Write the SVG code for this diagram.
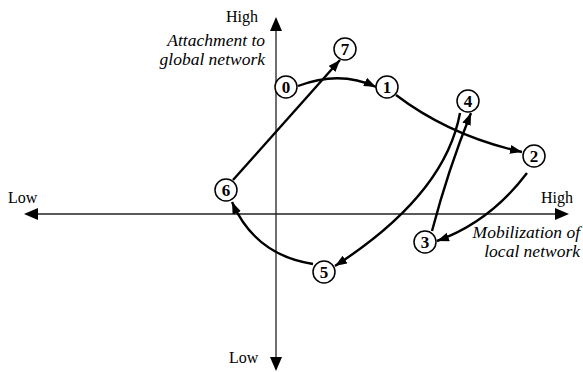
<svg xmlns="http://www.w3.org/2000/svg" width="583" height="372" viewBox="0 0 583 372">
<style>
.axis{stroke:#222;stroke-width:1.3;fill:none}
.ah{fill:#000}
.lbl{font-family:'Liberation Serif','Times New Roman',serif;font-size:16px;fill:#000}
.it{font-style:italic;font-size:17.5px}
.edge{stroke:#000;stroke-width:2.4;fill:none;marker-end:url(#arr)}
.node circle{fill:#fff;stroke:#000;stroke-width:1.5}
.node text{font-family:'Liberation Serif','Times New Roman',serif;font-size:17px;font-weight:bold;text-anchor:middle;fill:#000}
</style>
<defs>
<marker id="arr" markerUnits="userSpaceOnUse" markerWidth="14" markerHeight="11" refX="12" refY="4.5" orient="auto">
<path d="M0,0 L12,4.5 L0,9 z" fill="#000"/>
</marker>
</defs>
<g id="axes">
<line class="axis" x1="276" y1="30" x2="276" y2="358"/>
<line class="axis" x1="37" y1="214" x2="556" y2="214"/>
<polygon class="ah" points="276,17 270,31 282,31"/>
<polygon class="ah" points="276,371 270,357 282,357"/>
<polygon class="ah" points="24,214 38,208 38,220"/>
<polygon class="ah" points="569,214 555,208 555,220"/>
<text class="lbl" x="226" y="22" font-family="Liberation Serif, serif">High</text>
<text class="lbl it" x="265" y="46" text-anchor="end" font-family="Liberation Serif, serif">Attachment to</text>
<text class="lbl it" x="265" y="65" text-anchor="end" font-family="Liberation Serif, serif">global network</text>
<text class="lbl" x="541" y="203" font-family="Liberation Serif, serif">High</text>
<text class="lbl it" x="580" y="238" text-anchor="end" font-family="Liberation Serif, serif">Mobilization of</text>
<text class="lbl it" x="580" y="257" text-anchor="end" font-family="Liberation Serif, serif">local network</text>
<text class="lbl" x="8" y="203" font-family="Liberation Serif, serif">Low</text>
<text class="lbl" x="229" y="363" font-family="Liberation Serif, serif">Low</text>
</g>
<g id="connectors">
<path class="edge" d="M298,86 Q340,70 376,87"/>
<path class="edge" d="M233,180 L340,60"/>
<path class="edge" d="M396,95 Q450,136 522,152"/>
<path class="edge" d="M527,173 Q490,222 437,241"/>
<path class="edge" d="M432,231 Q448,170 471,113"/>
<path class="edge" d="M460,113 Q445,195 335,266"/>
<path class="edge" d="M313,264 Q255,255 232,202"/>
</g>
<g id="n0" class="node"><circle cx="286" cy="87" r="11"/><text x="286" y="93" font-family="Liberation Serif, serif">0</text></g>
<g id="n1" class="node"><circle cx="387" cy="87" r="11"/><text x="387" y="93" font-family="Liberation Serif, serif">1</text></g>
<g id="n2" class="node"><circle cx="534" cy="156" r="11"/><text x="534" y="162" font-family="Liberation Serif, serif">2</text></g>
<g id="n3" class="node"><circle cx="425" cy="242" r="11"/><text x="425" y="248" font-family="Liberation Serif, serif">3</text></g>
<g id="n4" class="node"><circle cx="468" cy="101" r="11"/><text x="468" y="107" font-family="Liberation Serif, serif">4</text></g>
<g id="n5" class="node"><circle cx="324" cy="272" r="11"/><text x="324" y="278" font-family="Liberation Serif, serif">5</text></g>
<g id="n6" class="node"><circle cx="226" cy="190" r="11"/><text x="226" y="196" font-family="Liberation Serif, serif">6</text></g>
<g id="n7" class="node"><circle cx="345" cy="49" r="11"/><text x="345" y="55" font-family="Liberation Serif, serif">7</text></g>
</svg>
